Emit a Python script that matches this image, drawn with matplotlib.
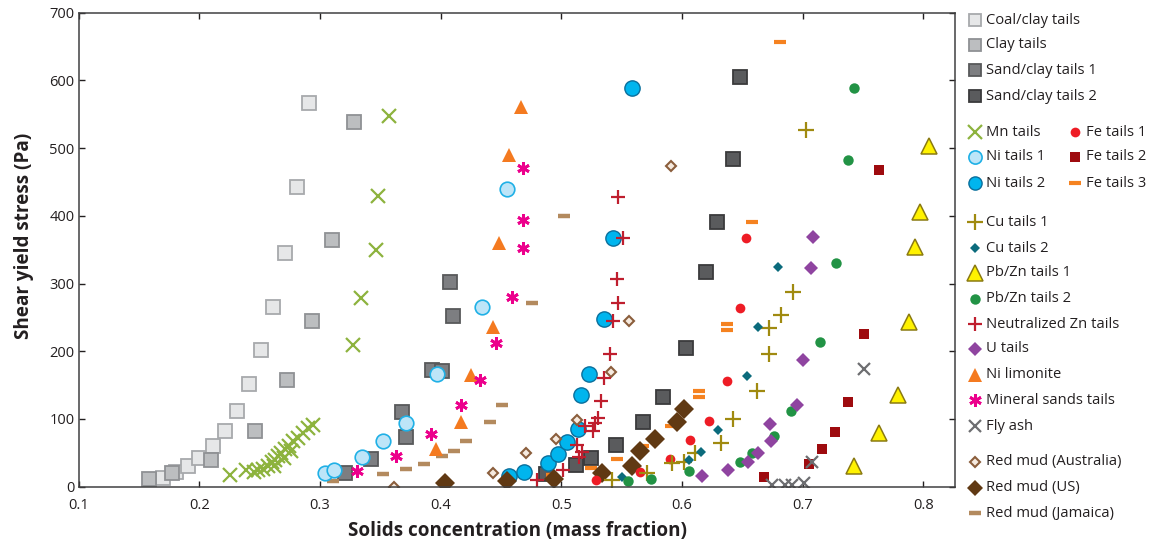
import matplotlib
matplotlib.use("Agg")
import matplotlib.pyplot as plt
from matplotlib.lines import Line2D

plt.rcParams['font.family'] = ['Open Sans', 'DejaVu Sans']

# ---------------- data (solids mass fraction, shear yield stress Pa) ----------------
coal_x = [0.170, 0.181, 0.191, 0.200, 0.211, 0.221, 0.231, 0.241, 0.251, 0.261, 0.271, 0.281, 0.291]
coal_y = [13, 21, 30, 42, 60, 82, 112, 151, 202, 265, 345, 443, 566]

clay_x = [0.158, 0.177, 0.210, 0.246, 0.273, 0.293, 0.310, 0.328]
clay_y = [11, 20, 40, 82, 157, 244, 365, 539]

sand1_x = [0.321, 0.342, 0.368, 0.371, 0.393, 0.401, 0.408, 0.410]
sand1_y = [20, 41, 110, 73, 172, 171, 302, 252]

sand2_x = [0.487, 0.512, 0.525, 0.545, 0.568, 0.584, 0.603, 0.620, 0.629, 0.642, 0.648]
sand2_y = [19, 32, 42, 61, 96, 133, 205, 317, 391, 484, 605]

mn_x = [0.225, 0.239, 0.245, 0.249, 0.253, 0.257, 0.260, 0.263, 0.265, 0.268, 0.271, 0.274,
        0.278, 0.282, 0.286, 0.290, 0.294, 0.262, 0.270, 0.276, 0.327, 0.334, 0.346, 0.348, 0.357]
mn_y = [17, 25, 22, 25, 26, 30, 36, 40, 45, 50, 55, 60,
        67, 72, 79, 87, 91, 30, 42, 52, 210, 278, 349, 429, 547]

ni1_x = [0.304, 0.312, 0.335, 0.352, 0.371, 0.397, 0.434, 0.455]
ni1_y = [20, 25, 44, 67, 94, 166, 266, 440]

ni2_x = [0.457, 0.469, 0.489, 0.497, 0.505, 0.514, 0.516, 0.523, 0.535, 0.543, 0.559]
ni2_y = [16, 21, 35, 48, 66, 85, 135, 166, 247, 367, 589]

fe1_x = [0.529, 0.565, 0.590, 0.607, 0.622, 0.637, 0.648, 0.653]
fe1_y = [10, 22, 41, 69, 97, 156, 264, 367]

fe2_x = [0.668, 0.705, 0.716, 0.727, 0.738, 0.751, 0.763]
fe2_y = [14, 33, 56, 81, 125, 226, 467]

fe3_x = [0.453, 0.492, 0.525, 0.546, 0.568, 0.591, 0.614, 0.614, 0.637, 0.637, 0.658, 0.681]
fe3_y = [8, 17, 28, 41, 60, 90, 142, 133, 240, 231, 391, 657]

cu1_x = [0.542, 0.571, 0.592, 0.602, 0.611, 0.632, 0.642, 0.662, 0.672, 0.672, 0.682, 0.692, 0.703]
cu1_y = [10, 20, 35, 37, 50, 65, 100, 141, 196, 234, 253, 288, 527]

cu2_x = [0.550, 0.606, 0.616, 0.630, 0.654, 0.663, 0.680]
cu2_y = [14, 39, 51, 84, 164, 236, 325]

pbzn1_x = [0.743, 0.763, 0.779, 0.788, 0.793, 0.797, 0.805]
pbzn1_y = [31, 79, 135, 243, 354, 405, 503]

pbzn2_x = [0.555, 0.574, 0.606, 0.648, 0.658, 0.676, 0.690, 0.714, 0.728, 0.738, 0.743]
pbzn2_y = [9, 12, 23, 37, 50, 75, 112, 214, 331, 483, 589]

nzn_x = [0.480, 0.501, 0.513, 0.515, 0.517, 0.520, 0.526, 0.528, 0.530, 0.533, 0.535,
         0.540, 0.543, 0.546, 0.547, 0.547, 0.551]
nzn_y = [10, 24, 62, 44, 51, 89, 82, 94, 101, 126, 160, 196, 244, 306, 271, 428, 368]

u_x = [0.617, 0.638, 0.655, 0.663, 0.674, 0.673, 0.695, 0.700, 0.707, 0.709]
u_y = [16, 24, 37, 50, 67, 92, 120, 187, 323, 369]

nilim_x = [0.396, 0.417, 0.425, 0.443, 0.448, 0.457, 0.467]
nilim_y = [56, 96, 165, 236, 360, 490, 561]

minsand_x = [0.331, 0.363, 0.392, 0.417, 0.433, 0.446, 0.459, 0.468, 0.468, 0.468]
minsand_y = [23, 46, 78, 120, 157, 212, 280, 352, 394, 471]

fly_x = [0.675, 0.685, 0.691, 0.701, 0.708, 0.751]
fly_y = [2, 2, 2, 5, 37, 174]

rmaus_x = [0.361, 0.443, 0.471, 0.496, 0.513, 0.541, 0.556, 0.591]
rmaus_y = [0, 20, 50, 70, 99, 170, 244, 474]

rmus_x = [0.404, 0.455, 0.494, 0.534, 0.559, 0.565, 0.578, 0.596, 0.602]
rmus_y = [5, 9, 11, 20, 31, 53, 70, 96, 115]

rmjam_x = [0.311, 0.352, 0.371, 0.386, 0.401, 0.411, 0.421, 0.441, 0.451, 0.476, 0.502]
rmjam_y = [8, 19, 26, 33, 45, 53, 67, 95, 121, 271, 400]

x_ticks = [0.1, 0.2, 0.3, 0.4, 0.5, 0.6, 0.7, 0.8]
x_tick_labels = ['0.1', '0.2', '0.3', '0.4', '0.5', '0.6', '0.7', '0.8']
y_ticks = [0, 100, 200, 300, 400, 500, 600, 700]

# ---------------- styles ----------------
TXT = '#231f20'
styles = {
    'Coal/clay tails': dict(marker='s', ms=10, mfc='#e6e7e8', mec='#a7a9ac', mew=1.3),
    'Clay tails': dict(marker='s', ms=10, mfc='#bcbec0', mec='#8f9194', mew=1.3),
    'Sand/clay tails 1': dict(marker='s', ms=10, mfc='#7d7e81', mec='#58595b', mew=1.3),
    'Sand/clay tails 2': dict(marker='s', ms=10, mfc='#5a5b5d', mec='#3a3a3c', mew=1.3),
    'Mn tails': dict(marker='x', ms=10, mfc='none', mec='#8db33e', mew=1.6),
    'Ni tails 1': dict(marker='o', ms=10.5, mfc='#bde5f8', mec='#1fb0e6', mew=1.2),
    'Ni tails 2': dict(marker='o', ms=11, mfc='#00b5ee', mec='#0a6f9c', mew=1.0),
    'Fe tails 1': dict(marker='o', ms=7, mfc='#ee1c25', mec='#ee1c25', mew=0),
    'Fe tails 2': dict(marker='s', ms=6.5, mfc='#9e0b0f', mec='#9e0b0f', mew=0),
    'Fe tails 3': dict(marker='_', ms=8, mfc='#f58220', mec='#f58220', mew=3.0),
    'Cu tails 1': dict(marker='+', ms=12, mfc='none', mec='#a08a10', mew=1.6),
    'Cu tails 2': dict(marker='D', ms=4.8, mfc='#0b6b7c', mec='#0b6b7c', mew=0),
    'Pb/Zn tails 1': dict(marker='^', ms=12, mfc='#fff200', mec='#8a7a12', mew=1.1),
    'Pb/Zn tails 2': dict(marker='o', ms=7.5, mfc='#229345', mec='#229345', mew=0),
    'Neutralized Zn tails': dict(marker='+', ms=9.5, mfc='none', mec='#bf1e2e', mew=1.6),
    'U tails': dict(marker='D', ms=7, mfc='#8f44a0', mec='#8f44a0', mew=0),
    'Ni limonite': dict(marker='^', ms=9.5, mfc='#f47a20', mec='#f47a20', mew=0),
    'Mineral sands tails': dict(marker=(6, 2, 0), ms=9, mfc='none', mec='#ec008c', mew=2.0),
    'Fly ash': dict(marker='x', ms=8.5, mfc='none', mec='#6d6e71', mew=1.6),
    'Red mud (Australia)': dict(marker='D', ms=5.5, mfc='#f6eadf', mec='#8b5e3c', mew=1.5),
    'Red mud (US)': dict(marker='D', ms=10, mfc='#603913', mec='#603913', mew=0),
    'Red mud (Jamaica)': dict(marker='_', ms=8.5, mfc='#b38a5e', mec='#b38a5e', mew=3.2),
}

series = [
    ('Coal/clay tails', coal_x, coal_y),
    ('Clay tails', clay_x, clay_y),
    ('Sand/clay tails 1', sand1_x, sand1_y),
    ('Sand/clay tails 2', sand2_x, sand2_y),
    ('Red mud (Jamaica)', rmjam_x, rmjam_y),
    ('Fe tails 3', fe3_x, fe3_y),
    ('Mn tails', mn_x, mn_y),
    ('Ni tails 1', ni1_x, ni1_y),
    ('Ni tails 2', ni2_x, ni2_y),
    ('Red mud (Australia)', rmaus_x, rmaus_y),
    ('Red mud (US)', rmus_x, rmus_y),
    ('Fe tails 1', fe1_x, fe1_y),
    ('Fe tails 2', fe2_x, fe2_y),
    ('Cu tails 1', cu1_x, cu1_y),
    ('Cu tails 2', cu2_x, cu2_y),
    ('Pb/Zn tails 1', pbzn1_x, pbzn1_y),
    ('Pb/Zn tails 2', pbzn2_x, pbzn2_y),
    ('Neutralized Zn tails', nzn_x, nzn_y),
    ('U tails', u_x, u_y),
    ('Ni limonite', nilim_x, nilim_y),
    ('Mineral sands tails', minsand_x, minsand_y),
    ('Fly ash', fly_x, fly_y),
]

W, H = 1163, 545
fig = plt.figure(figsize=(W / 100, H / 100), dpi=100)
ax = fig.add_axes([78.7 / W, 1 - 486.7 / H, (955 - 78.7) / W, (486.7 - 12.7) / H])

for name, xs, ys in series:
    ax.plot(xs, ys, linestyle='none', **styles[name])

ax.set_xlim(0.1, 0.8263)
ax.set_ylim(0, 700)
ax.set_xticks(x_ticks)
ax.set_xticklabels(x_tick_labels)
ax.set_yticks(y_ticks)
ax.tick_params(direction='in', length=4.5, width=1.0, colors=TXT, labelsize=10.5,
               top=True, right=True, pad=3)
ax.tick_params(axis='x', pad=8)
for sp in ax.spines.values():
    sp.set_color('#404041')
    sp.set_linewidth(1.1)

fig.text(517 / W, 1 - 531 / H, 'Solids concentration (mass fraction)', ha='center', va='center',
         fontsize=13.6, fontweight='bold', color=TXT)
fig.text(24 / W, 1 - 236 / H, 'Shear yield stress (Pa)', ha='center', va='center',
         rotation=90, fontsize=13.6, fontweight='bold', color=TXT)

# ---------------- legend (manual layout) ----------------
legend_entries = [
    ('Coal/clay tails', 975, 20), ('Clay tails', 975, 45), ('Sand/clay tails 1', 975, 70),
    ('Sand/clay tails 2', 975, 96),
    ('Mn tails', 975, 132), ('Ni tails 1', 975, 157), ('Ni tails 2', 975, 183),
    ('Fe tails 1', 1075, 132), ('Fe tails 2', 1075, 157), ('Fe tails 3', 1075, 183),
    ('Cu tails 1', 975, 222), ('Cu tails 2', 975, 248), ('Pb/Zn tails 1', 975, 273),
    ('Pb/Zn tails 2', 975, 299), ('Neutralized Zn tails', 975, 324), ('U tails', 975, 349),
    ('Ni limonite', 975, 375), ('Mineral sands tails', 975, 400), ('Fly ash', 975, 426),
    ('Red mud (Australia)', 975, 462), ('Red mud (US)', 975, 488), ('Red mud (Jamaica)', 975, 513),
]
for name, px, py in legend_entries:
    st = dict(styles[name])
    if name in ('Coal/clay tails', 'Clay tails', 'Sand/clay tails 1', 'Sand/clay tails 2'):
        st['ms'] = 8.5
    if name in ('Ni tails 1', 'Ni tails 2'):
        st['ms'] = 9.5
    if name == 'Red mud (US)':
        st['ms'] = 8.5
    ln = Line2D([px / W], [1 - py / H], transform=fig.transFigure, linestyle='none', **st)
    fig.add_artist(ln)
    fig.text((px + 11) / W, 1 - py / H, name, ha='left', va='center', fontsize=10.6, color=TXT)

fig.savefig('out.png', dpi=100)
